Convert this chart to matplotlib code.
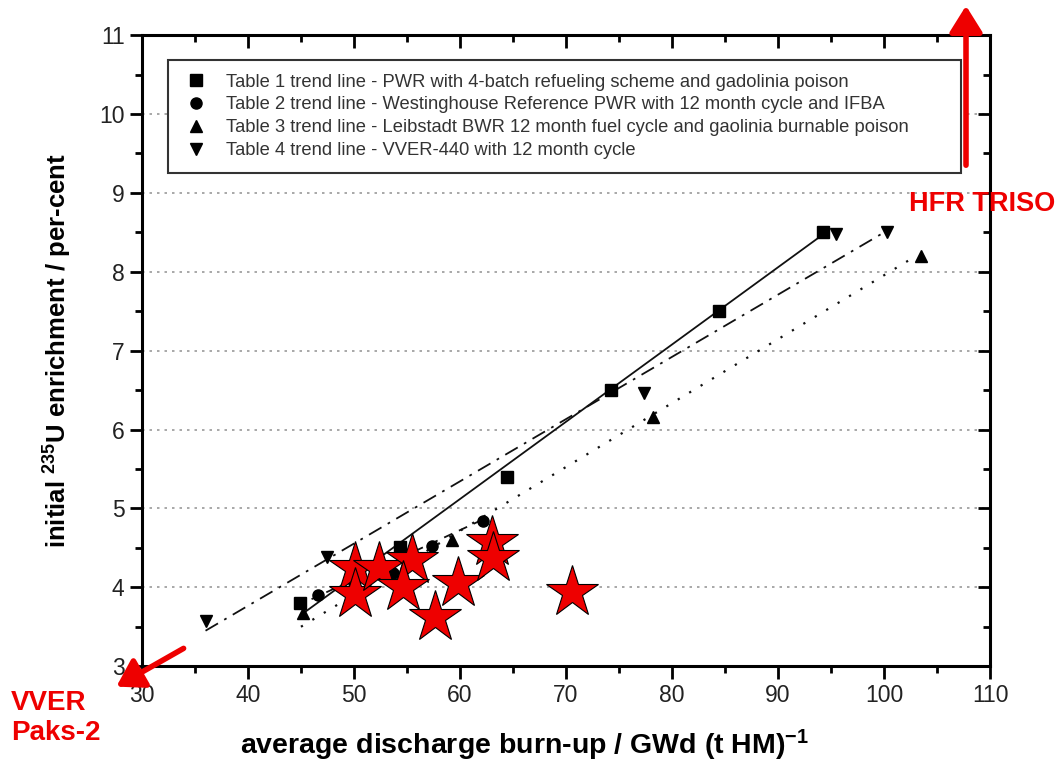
import numpy as np
import matplotlib.pyplot as plt
from matplotlib.patches import FancyArrowPatch

plt.rcParams['font.family'] = ['Liberation Sans', 'DejaVu Sans']
plt.rcParams['mathtext.fontset'] = 'custom'
plt.rcParams['mathtext.rm'] = 'Liberation Sans:bold'
plt.rcParams['mathtext.default'] = 'rm'

# Table 1 - squares
t1_x = [44.9, 54.3, 64.4, 74.2, 84.4, 94.2]
t1_y = [3.80, 4.51, 5.40, 6.50, 7.50, 8.50]
# Table 2 - circles
t2_x = [46.6, 50.0, 53.7, 57.4, 62.2]
t2_y = [3.90, 4.05, 4.18, 4.53, 4.84]
# Table 3 - up triangles
t3_x = [45.2, 59.2, 78.2, 103.5]
t3_y = [3.67, 4.60, 6.16, 8.20]
# Table 4 - down triangles
t4_x = [36.0, 47.5, 77.4, 95.5, 100.3]
t4_y = [3.57, 4.39, 6.46, 8.48, 8.50]

# trend line end points
line1_x, line1_y = [45, 94], [3.65, 8.45]
line2_x, line2_y = [46, 62], [3.85, 4.85]
line3_x, line3_y = [45, 103], [3.50, 8.20]
line4_x, line4_y = [36, 100], [3.45, 8.50]

# red stars
star_x = [50.1, 50.1, 52.4, 55.5, 54.6, 57.6, 59.8, 63.0, 63.1, 70.6]
star_y = [4.25, 3.92, 4.25, 4.35, 4.00, 3.62, 4.05, 4.57, 4.37, 3.94]

labels = [
    "Table 1 trend line - PWR with 4-batch refueling scheme and gadolinia poison",
    "Table 2 trend line - Westinghouse Reference PWR with 12 month cycle and IFBA",
    "Table 3 trend line - Leibstadt BWR 12 month fuel cycle and gaolinia burnable poison",
    "Table 4 trend line - VVER-440 with 12 month cycle",
]

fig = plt.figure(figsize=(10.59, 7.64), dpi=100)
ax = fig.add_axes([0.134, 0.128, 0.801, 0.826])

ax.plot(line1_x, line1_y, color='#111', lw=1.3, ls='-')
ax.plot(line2_x, line2_y, color='#111', lw=1.3, ls=(0, (5, 4)))
ax.plot(line3_x, line3_y, color='#111', lw=1.6, ls=(0, (1, 5)))
ax.plot(line4_x, line4_y, color='#111', lw=1.3, ls=(0, (8, 4, 1.5, 4)))

ax.plot(t1_x, t1_y, 's', color='black', ms=8, ls='none', label=labels[0])
ax.plot(t2_x, t2_y, 'o', color='black', ms=8, ls='none', label=labels[1])
ax.plot(t3_x, t3_y, '^', color='black', ms=9, ls='none', label=labels[2])
ax.plot(t4_x, t4_y, 'v', color='black', ms=9, ls='none', label=labels[3])

ax.plot(star_x, star_y, '*', ms=39, mfc='#ee0000', mec='black', mew=0.8,
        ls='none', zorder=5)

ax.set_xlim(30, 110)
ax.set_ylim(3, 11)
ax.set_xticks(np.arange(30, 111, 10))
ax.set_xticks(np.arange(30, 111, 5), minor=True)
ax.set_yticks(np.arange(3, 12, 1))
ax.set_yticks(np.arange(3, 11.1, 0.5), minor=True)
ax.yaxis.grid(True, which='major', ls=(0, (1.5, 3)), color='#999', lw=1.2)
ax.set_axisbelow(True)

for s in ax.spines.values():
    s.set_linewidth(2.2)
ax.tick_params(which='both', width=2, labelsize=16.5, labelcolor='#222')
ax.tick_params(which='major', length=9)
ax.tick_params(which='minor', length=5)
ax.tick_params(which='both', top=True, right=True, labeltop=False, labelright=False)

# top/right ticks point inward, bottom/left outward
for t in ax.xaxis.get_major_ticks() + ax.xaxis.get_minor_ticks():
    t.tick2line.set_marker(3)
for t in ax.yaxis.get_major_ticks() + ax.yaxis.get_minor_ticks():
    t.tick2line.set_marker(0)

fig.text(525 / 1059, 1 - 745 / 764, "average discharge burn-up / GWd (t HM)$^{-1}$",
         fontsize=20.5, fontweight='bold', ha='center', va='center')
ax.set_ylabel("initial $^{235}$U enrichment / per-cent", fontsize=18.5,
              fontweight='bold', labelpad=18)

leg = ax.legend(loc='upper left', bbox_to_anchor=(0.031, 0.961, 0.935, 0.0),
                mode='expand', fontsize=13.2, frameon=True, fancybox=False,
                edgecolor='#333', framealpha=1, labelspacing=0.32,
                handlelength=1.5, borderpad=0.75, handletextpad=0.9,
                borderaxespad=0)
leg.get_frame().set_linewidth(1.5)
for t in leg.get_texts():
    t.set_color('#333')

def fig_xy(px, py):
    return (px / 1059, 1 - py / 764)

red = '#ee0000'
fig.add_artist(FancyArrowPatch(fig_xy(966, 168), fig_xy(966, 3),
                               transform=fig.transFigure, arrowstyle='-|>,head_length=8,head_width=5',
                               color=red, lw=4, mutation_scale=2))
fig.add_artist(FancyArrowPatch(fig_xy(186, 647), fig_xy(114, 688),
                               transform=fig.transFigure, arrowstyle='-|>,head_length=8,head_width=5',
                               color=red, lw=4, mutation_scale=2))
fig.text(*fig_xy(982, 204), "HFR TRISO", color=red, fontsize=19.5,
         fontweight='bold', ha='center', va='center')
fig.text(*fig_xy(11, 718), "VVER\nPaks-2", color=red, fontsize=20,
         fontweight='bold', ha='left', va='center', linespacing=1.25)

fig.savefig('out.png', dpi=100)
